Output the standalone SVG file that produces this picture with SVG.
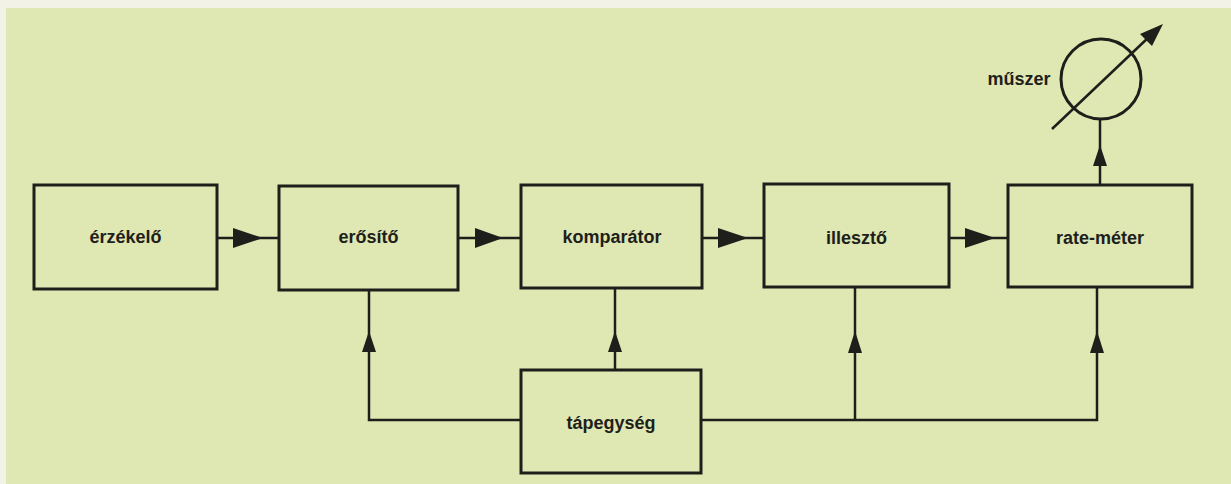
<svg xmlns="http://www.w3.org/2000/svg" width="1231" height="484" viewBox="0 0 1231 484">
<style>
.box{fill:none;stroke:#1e1e1a;stroke-width:3}
.lbl{font-family:"Liberation Sans",Arial,sans-serif;font-weight:bold;font-size:18px;fill:#1e1e1a;text-anchor:middle;dominant-baseline:central}
.wire{fill:none;stroke:#1e1e1a;stroke-width:2.5}
.head{fill:#1e1e1a;stroke:none}
</style>
<rect x="0" y="0" width="1231" height="484" fill="#f3f2e6"/>
<rect x="6" y="8" width="1225" height="476" fill="#dfe7b3"/>
<g id="erzekelo"><rect class="box" x="34" y="185" width="183" height="104"/><text class="lbl" x="125.5" y="237">érzékelő</text></g>
<g id="erosito"><rect class="box" x="279" y="186" width="179" height="104"/><text class="lbl" x="368.5" y="237">erősítő</text></g>
<g id="komparator"><rect class="box" x="521" y="185" width="181" height="103"/><text class="lbl" x="612" y="237">komparátor</text></g>
<g id="illeszto"><rect class="box" x="764" y="184" width="185" height="103"/><text class="lbl" x="856.5" y="238">illesztő</text></g>
<g id="ratemeter"><rect class="box" x="1008" y="185" width="184" height="102"/><text class="lbl" x="1100" y="238">rate-méter</text></g>
<g id="tapegyseg"><rect class="box" x="521" y="370" width="180" height="103"/><text class="lbl" x="611" y="423">tápegység</text></g>
<g id="muszer">
<circle cx="1101" cy="79" r="40" fill="none" stroke="#1e1e1a" stroke-width="3"/>
<line x1="1052" y1="129" x2="1150" y2="36" stroke="#1e1e1a" stroke-width="2.5"/>
<polygon class="head" points="1163,24 1152,46 1140,34"/>
<text class="lbl" x="1019" y="79">műszer</text>
</g>
<g id="connectors">
<line class="wire" x1="217" y1="238" x2="279" y2="238"/>
<polygon class="head" points="233,228 263,238 233,248"/>
<line class="wire" x1="458" y1="238" x2="521" y2="238"/>
<polygon class="head" points="475,228 503,238 475,248"/>
<line class="wire" x1="702" y1="238" x2="764" y2="238"/>
<polygon class="head" points="718,228 748,238 718,248"/>
<line class="wire" x1="949" y1="238" x2="1008" y2="238"/>
<polygon class="head" points="965,228 995,238 965,248"/>
<line class="wire" x1="1100" y1="185" x2="1100" y2="119"/>
<polygon class="head" points="1093,166 1100,145 1107,166"/>
<polyline class="wire" points="521,420 369,420 369,290"/>
<polygon class="head" points="362,352 369,331 376,352"/>
<line class="wire" x1="615" y1="370" x2="615" y2="288"/>
<polygon class="head" points="608,352 615,331 622,352"/>
<polyline class="wire" points="701,420 1097,420 1097,287"/>
<line class="wire" x1="855" y1="420" x2="855" y2="287"/>
<polygon class="head" points="848,353 855,331 862,353"/>
<polygon class="head" points="1090,353 1097,331 1104,353"/>
</g>
</svg>
